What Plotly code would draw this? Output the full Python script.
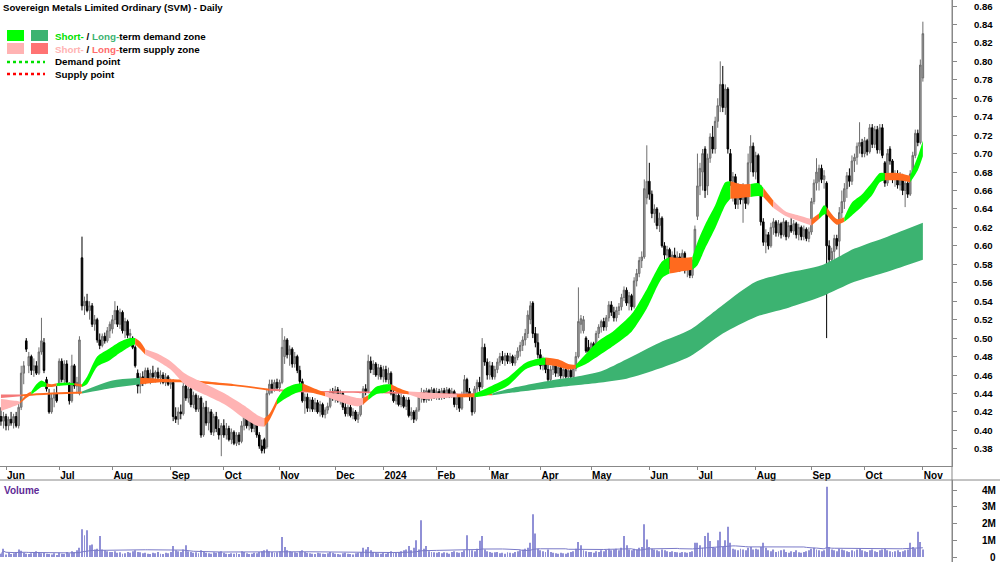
import plotly.graph_objects as go
import pandas as pd

# ---------------- DATA (open, high, low, close) per month ----------------
may23 = [(0.415,0.425,0.405,0.410),(0.410,0.420,0.402,0.415)]
jun23 = [(0.415,0.418,0.400,0.405),(0.405,0.415,0.400,0.412),(0.412,0.420,0.405,0.408),(0.408,0.418,0.402,0.415),
         (0.415,0.420,0.403,0.405),(0.405,0.430,0.402,0.425),(0.425,0.470,0.422,0.462),(0.462,0.475,0.450,0.470),
         (0.497,0.500,0.485,0.488),(0.470,0.485,0.462,0.480),(0.480,0.482,0.460,0.465),(0.465,0.478,0.458,0.470),
         (0.470,0.475,0.460,0.462),(0.462,0.490,0.460,0.485),(0.485,0.522,0.482,0.497),(0.495,0.500,0.462,0.465),
         (0.455,0.458,0.442,0.445),(0.440,0.445,0.418,0.420),(0.420,0.440,0.418,0.435),(0.435,0.445,0.425,0.440),
         (0.440,0.448,0.430,0.432)]
jul23 = [(0.450,0.478,0.448,0.475),(0.475,0.478,0.452,0.455),(0.455,0.476,0.450,0.472),(0.472,0.476,0.450,0.452),
         (0.450,0.452,0.428,0.432),(0.432,0.482,0.430,0.470),(0.470,0.472,0.445,0.448),(0.448,0.458,0.440,0.452),
         (0.440,0.502,0.438,0.498),(0.587,0.610,0.530,0.535),(0.535,0.545,0.525,0.540),(0.540,0.548,0.528,0.530),
         (0.530,0.540,0.520,0.535),(0.535,0.538,0.512,0.515),(0.515,0.525,0.508,0.520),(0.520,0.522,0.495,0.498),
         (0.498,0.505,0.488,0.492),(0.492,0.505,0.490,0.502),(0.502,0.506,0.494,0.497),(0.497,0.512,0.495,0.508),
         (0.508,0.518,0.500,0.515)]
aug23 = [(0.510,0.525,0.505,0.520),(0.520,0.540,0.515,0.530),(0.530,0.535,0.512,0.515),(0.515,0.532,0.510,0.528),
         (0.528,0.530,0.505,0.508),(0.508,0.522,0.500,0.518),(0.518,0.520,0.500,0.503),(0.503,0.510,0.495,0.505),
         (0.500,0.502,0.488,0.490),(0.490,0.492,0.468,0.470),(0.462,0.466,0.440,0.448),(0.448,0.462,0.440,0.458),
         (0.458,0.464,0.448,0.452),(0.452,0.468,0.450,0.465),(0.465,0.468,0.452,0.455),(0.455,0.466,0.450,0.462),
         (0.462,0.470,0.455,0.458),(0.458,0.465,0.452,0.463),(0.463,0.468,0.455,0.457),(0.457,0.465,0.450,0.460),
         (0.460,0.463,0.450,0.452),(0.452,0.462,0.448,0.458),(0.458,0.460,0.448,0.450)]
sep23 = [(0.450,0.456,0.445,0.452),(0.452,0.455,0.410,0.415),(0.415,0.425,0.408,0.412),(0.412,0.425,0.406,0.420),
         (0.420,0.428,0.412,0.418),(0.418,0.452,0.416,0.448),(0.448,0.455,0.432,0.435),(0.435,0.448,0.430,0.445),
         (0.445,0.448,0.425,0.428),(0.428,0.442,0.424,0.438),(0.438,0.440,0.420,0.423),(0.423,0.438,0.420,0.435),
         (0.435,0.437,0.392,0.395),(0.395,0.430,0.393,0.425),(0.425,0.432,0.405,0.408),(0.408,0.425,0.400,0.420),
         (0.420,0.423,0.395,0.398),(0.398,0.418,0.394,0.415),(0.415,0.420,0.398,0.402),(0.402,0.412,0.390,0.395),
         (0.395,0.408,0.372,0.405)]
oct23 = [(0.405,0.412,0.392,0.395),(0.395,0.408,0.390,0.402),(0.402,0.405,0.388,0.390),(0.390,0.402,0.385,0.398),
         (0.398,0.400,0.384,0.386),(0.386,0.398,0.383,0.395),(0.395,0.398,0.384,0.388),(0.388,0.410,0.386,0.405),
         (0.405,0.420,0.400,0.415),(0.415,0.418,0.402,0.405),(0.405,0.415,0.400,0.412),(0.412,0.414,0.398,0.402),
         (0.402,0.412,0.398,0.408),(0.408,0.410,0.392,0.395),(0.395,0.398,0.380,0.383),(0.383,0.390,0.375,0.378),
         (0.390,0.392,0.375,0.380),(0.382,0.445,0.380,0.440),(0.440,0.455,0.438,0.450),(0.450,0.455,0.440,0.445),
         (0.445,0.455,0.442,0.452),(0.452,0.456,0.443,0.446)]
nov23 = [(0.446,0.455,0.442,0.452),(0.452,0.511,0.450,0.490),(0.480,0.502,0.472,0.498),(0.498,0.500,0.478,0.482),
         (0.482,0.492,0.470,0.488),(0.488,0.490,0.468,0.472),(0.472,0.485,0.468,0.480),(0.480,0.482,0.462,0.465),
         (0.465,0.470,0.450,0.453),(0.453,0.456,0.430,0.432),(0.432,0.440,0.418,0.436),(0.436,0.440,0.420,0.424),
         (0.424,0.436,0.420,0.433),(0.433,0.436,0.420,0.423),(0.423,0.435,0.420,0.430),(0.430,0.433,0.418,0.420),
         (0.420,0.432,0.415,0.428),(0.428,0.430,0.414,0.417),(0.417,0.425,0.413,0.422),(0.422,0.430,0.418,0.426),
         (0.426,0.445,0.424,0.442),(0.442,0.446,0.432,0.435)]
dec23 = [(0.435,0.448,0.430,0.444),(0.444,0.447,0.430,0.432),(0.432,0.444,0.428,0.440),(0.440,0.442,0.422,0.425),
         (0.425,0.432,0.415,0.418),(0.418,0.428,0.415,0.425),(0.425,0.428,0.414,0.416),(0.416,0.424,0.412,0.420),
         (0.420,0.422,0.410,0.412),(0.412,0.420,0.408,0.417),(0.417,0.432,0.415,0.430),(0.430,0.448,0.428,0.445),
         (0.445,0.450,0.438,0.442),(0.442,0.482,0.440,0.475),(0.475,0.480,0.462,0.466),(0.466,0.476,0.460,0.472),
         (0.472,0.474,0.458,0.460),(0.460,0.472,0.455,0.468),(0.468,0.471,0.455,0.458)]
jan24 = [(0.458,0.470,0.452,0.466),(0.466,0.470,0.452,0.455),(0.455,0.468,0.450,0.462),(0.462,0.464,0.438,0.440),
         (0.440,0.445,0.430,0.432),(0.432,0.442,0.428,0.438),(0.438,0.441,0.426,0.428),(0.428,0.440,0.425,0.436),
         (0.436,0.438,0.424,0.426),(0.426,0.436,0.422,0.433),(0.433,0.436,0.414,0.416),(0.416,0.425,0.411,0.420),
         (0.420,0.422,0.408,0.412),(0.412,0.425,0.410,0.422),(0.422,0.440,0.420,0.436),(0.436,0.446,0.430,0.441),
         (0.441,0.444,0.430,0.433),(0.433,0.446,0.430,0.443),(0.443,0.445,0.432,0.435),(0.435,0.447,0.432,0.444),
         (0.444,0.446,0.434,0.437)]
feb24 = [(0.437,0.446,0.433,0.442),(0.442,0.445,0.433,0.436),(0.436,0.446,0.433,0.443),(0.443,0.446,0.434,0.438),
         (0.438,0.447,0.435,0.444),(0.444,0.446,0.435,0.438),(0.438,0.446,0.435,0.442),(0.442,0.444,0.425,0.428),
         (0.428,0.440,0.422,0.436),(0.436,0.438,0.420,0.424),(0.424,0.442,0.422,0.438),(0.438,0.460,0.436,0.455),
         (0.455,0.457,0.438,0.442),(0.442,0.446,0.432,0.438),(0.438,0.440,0.416,0.420),(0.420,0.448,0.418,0.445),
         (0.445,0.455,0.440,0.452),(0.452,0.458,0.442,0.447),(0.447,0.500,0.445,0.490),(0.490,0.494,0.470,0.474),
         (0.474,0.478,0.455,0.460)]
mar24 = [(0.460,0.475,0.455,0.470),(0.470,0.474,0.455,0.458),(0.458,0.470,0.455,0.466),(0.466,0.478,0.462,0.474),
         (0.474,0.484,0.470,0.480),(0.480,0.486,0.472,0.476),(0.476,0.484,0.470,0.481),(0.481,0.484,0.472,0.475),
         (0.475,0.484,0.472,0.480),(0.480,0.482,0.470,0.473),(0.473,0.482,0.470,0.479),(0.479,0.490,0.476,0.486),
         (0.486,0.496,0.480,0.492),(0.492,0.502,0.486,0.498),(0.498,0.510,0.492,0.505),(0.505,0.530,0.500,0.525),
         (0.520,0.540,0.515,0.535),(0.538,0.540,0.500,0.505),(0.505,0.512,0.490,0.495),(0.495,0.505,0.478,0.482)]
apr24 = [(0.482,0.488,0.466,0.470),(0.470,0.480,0.465,0.476),(0.476,0.478,0.462,0.466),(0.466,0.474,0.450,0.455),
         (0.455,0.470,0.452,0.466),(0.466,0.474,0.460,0.470),(0.470,0.473,0.458,0.462),(0.462,0.472,0.458,0.468),
         (0.468,0.470,0.456,0.459),(0.459,0.470,0.456,0.466),(0.466,0.468,0.456,0.458),(0.458,0.468,0.455,0.465),
         (0.465,0.467,0.455,0.458),(0.458,0.470,0.456,0.467),(0.467,0.485,0.464,0.480),(0.480,0.555,0.478,0.518),
         (0.515,0.525,0.505,0.521),(0.508,0.524,0.505,0.520),(0.500,0.502,0.484,0.486),(0.490,0.498,0.482,0.485)]
may24 = [(0.485,0.496,0.482,0.494),(0.494,0.496,0.482,0.486),(0.486,0.508,0.484,0.505),(0.505,0.515,0.500,0.512),
         (0.512,0.520,0.506,0.518),(0.518,0.522,0.508,0.512),(0.512,0.525,0.508,0.522),(0.522,0.540,0.518,0.536),
         (0.536,0.540,0.524,0.528),(0.528,0.534,0.518,0.522),(0.522,0.534,0.518,0.530),(0.530,0.538,0.525,0.534),
         (0.534,0.548,0.530,0.544),(0.544,0.556,0.540,0.552),(0.552,0.555,0.535,0.538),(0.538,0.550,0.530,0.546),
         (0.546,0.548,0.530,0.534),(0.534,0.566,0.532,0.562),(0.562,0.575,0.556,0.570),(0.570,0.588,0.566,0.584),
         (0.584,0.594,0.576,0.588),(0.588,0.672,0.586,0.662),(0.652,0.709,0.645,0.670)]
jun24 = [(0.670,0.690,0.650,0.656),(0.656,0.660,0.630,0.635),(0.635,0.645,0.625,0.640),(0.640,0.642,0.618,0.622),
         (0.622,0.636,0.615,0.630),(0.630,0.632,0.598,0.600),(0.600,0.604,0.585,0.590),(0.590,0.600,0.570,0.596),
         (0.596,0.598,0.575,0.580),(0.580,0.594,0.572,0.590),(0.590,0.598,0.576,0.580),(0.580,0.594,0.574,0.588),
         (0.588,0.592,0.572,0.576),(0.576,0.596,0.574,0.592),(0.592,0.594,0.570,0.574),(0.574,0.586,0.566,0.582),
         (0.582,0.584,0.565,0.568),(0.568,0.585,0.565,0.580),(0.580,0.622,0.578,0.618)]
jul24 = [(0.632,0.700,0.628,0.665),(0.665,0.690,0.655,0.684),(0.680,0.705,0.660,0.700),(0.705,0.708,0.652,0.660),
         (0.665,0.700,0.655,0.695),(0.695,0.722,0.690,0.718),(0.718,0.730,0.700,0.705),(0.705,0.740,0.700,0.735),
         (0.735,0.760,0.728,0.752),(0.752,0.800,0.745,0.775),(0.775,0.795,0.745,0.750),(0.750,0.775,0.742,0.770),
         (0.770,0.772,0.700,0.705),(0.700,0.705,0.665,0.670),(0.670,0.680,0.648,0.675),(0.675,0.678,0.640,0.645),
         (0.645,0.668,0.640,0.662),(0.662,0.666,0.645,0.650),(0.650,0.668,0.625,0.660),(0.660,0.664,0.640,0.646),
         (0.646,0.700,0.644,0.690),(0.690,0.720,0.680,0.708),(0.708,0.712,0.675,0.680)]
aug24 = [(0.680,0.702,0.672,0.698),(0.698,0.700,0.660,0.664),(0.664,0.666,0.622,0.626),(0.626,0.630,0.600,0.604),
         (0.604,0.618,0.592,0.612),(0.612,0.615,0.596,0.600),(0.600,0.625,0.598,0.620),(0.620,0.630,0.612,0.626),
         (0.626,0.628,0.610,0.614),(0.614,0.628,0.610,0.624),(0.624,0.626,0.608,0.612),(0.612,0.630,0.610,0.626),
         (0.626,0.628,0.606,0.610),(0.610,0.626,0.608,0.622),(0.622,0.630,0.614,0.616),(0.616,0.628,0.612,0.624),
         (0.624,0.626,0.608,0.612),(0.612,0.624,0.606,0.620),(0.620,0.622,0.606,0.610),(0.610,0.622,0.606,0.618),
         (0.618,0.620,0.605,0.608),(0.608,0.620,0.604,0.615)]
sep24 = [(0.615,0.652,0.612,0.648),(0.648,0.672,0.645,0.668),(0.668,0.695,0.660,0.680),(0.670,0.688,0.660,0.684),
         (0.684,0.688,0.668,0.672),(0.672,0.682,0.662,0.676),(0.668,0.670,0.500,0.600),(0.600,0.606,0.580,0.585),
         (0.585,0.598,0.580,0.594),(0.594,0.612,0.585,0.608),(0.608,0.612,0.596,0.600),(0.605,0.642,0.580,0.636),
         (0.636,0.660,0.630,0.648),(0.648,0.668,0.640,0.662),(0.662,0.680,0.652,0.676),(0.676,0.684,0.664,0.670),
         (0.670,0.698,0.666,0.692),(0.692,0.700,0.680,0.696),(0.696,0.712,0.688,0.708),(0.708,0.734,0.700,0.712),
         (0.712,0.716,0.696,0.700)]
oct24 = [(0.700,0.718,0.696,0.714),(0.714,0.716,0.698,0.702),(0.702,0.732,0.700,0.728),(0.728,0.732,0.706,0.710),
         (0.710,0.730,0.706,0.726),(0.726,0.730,0.700,0.704),(0.704,0.732,0.700,0.728),(0.728,0.732,0.695,0.698),
         (0.690,0.692,0.664,0.668),(0.668,0.705,0.665,0.700),(0.705,0.708,0.688,0.692),(0.692,0.694,0.668,0.672),
         (0.672,0.682,0.664,0.678),(0.678,0.682,0.662,0.666),(0.666,0.680,0.660,0.676),(0.676,0.678,0.655,0.660),
         (0.660,0.672,0.642,0.668),(0.668,0.670,0.652,0.656),(0.656,0.682,0.654,0.678),(0.678,0.702,0.675,0.698),
         (0.698,0.726,0.695,0.722),(0.722,0.726,0.708,0.712),(0.712,0.802,0.710,0.796)]
nov24 = [(0.782,0.843,0.778,0.830)]

# volume (millions) per month
vol_may23 = [0.20,0.50]
vol_jun23 = [0.15,0.25,0.18,0.22,0.30,0.45,0.38,0.25,0.20,0.18,0.22,0.30,0.35,0.28,0.22,0.25,0.20,0.18,0.15,0.22,0.12]
vol_jul23 = [0.25,0.20,0.18,0.30,0.22,0.35,0.28,0.40,0.55,1.65,1.30,1.60,0.70,0.75,0.45,0.50,1.25,0.45,0.40,0.35,0.30]
vol_aug23 = [0.30,0.35,0.25,0.28,0.20,0.22,0.30,0.25,0.35,0.40,0.30,0.28,0.22,0.25,0.20,0.18,0.25,0.22,0.30,0.20,0.18,0.25,0.22]
vol_sep23 = [0.30,0.65,0.40,0.35,0.30,0.45,0.70,0.35,0.30,0.25,0.28,0.22,0.40,0.30,0.25,0.22,0.20,0.28,0.25,0.30,0.35]
vol_oct23 = [0.25,0.20,0.18,0.22,0.20,0.25,0.18,0.35,0.30,0.22,0.18,0.20,0.25,0.22,0.30,0.35,0.40,0.45,0.35,0.30,0.25,0.28]
vol_nov23 = [0.35,1.20,0.60,0.40,0.35,0.30,0.28,0.25,0.35,0.40,0.30,0.25,0.22,0.20,0.18,0.25,0.22,0.20,0.18,0.22,0.30,0.25]
vol_dec23 = [0.20,0.18,0.15,0.22,0.25,0.20,0.18,0.15,0.22,0.25,0.30,0.55,0.45,0.60,0.40,0.30,0.25,0.22,0.20]
vol_jan24 = [0.25,0.20,0.30,0.35,0.28,0.25,0.30,0.35,0.40,0.45,0.65,0.40,0.55,1.00,0.45,2.20,0.50,0.65,0.35,0.30,0.28]
vol_feb24 = [0.25,0.30,0.22,0.28,0.25,0.20,0.30,0.35,0.28,0.25,0.30,0.40,1.30,0.45,0.40,0.35,0.50,0.97,1.25,0.45,0.35]
vol_mar24 = [0.30,0.25,0.28,0.30,0.22,0.25,0.20,0.28,0.25,0.22,0.30,0.35,0.40,0.45,0.50,0.55,0.85,2.55,1.40,0.50]
vol_apr24 = [0.40,0.35,0.30,0.45,0.30,0.25,0.22,0.20,0.25,0.22,0.20,0.25,0.30,0.35,0.50,0.90,0.70,0.40,0.35,0.30]
vol_may24 = [0.30,0.25,0.35,0.30,0.40,0.35,0.45,0.50,0.40,0.45,0.50,0.40,0.55,1.25,0.70,0.45,0.40,0.50,0.45,0.55,0.60,1.95,1.05]
vol_jun24 = [0.60,0.50,0.45,0.40,0.35,0.45,0.40,0.35,0.30,0.35,0.30,0.28,0.25,0.30,0.28,0.25,0.30,0.35,0.85]
vol_jul24 = [0.85,0.70,0.55,1.25,1.45,0.95,0.60,0.55,1.00,1.50,0.60,1.00,1.80,0.85,0.50,0.45,0.40,0.50,0.45,0.40,0.55,0.60,0.45]
vol_aug24 = [0.50,0.45,0.60,0.85,0.55,0.40,0.35,0.45,0.30,0.35,0.40,0.45,0.30,0.25,0.35,0.30,0.40,0.28,0.25,0.30,0.35,0.40]
vol_sep24 = [0.50,0.55,0.45,0.40,0.35,0.40,4.20,0.60,0.45,0.40,0.35,0.50,0.45,0.40,0.35,0.30,0.40,0.35,0.45,0.50,0.40]
vol_oct24 = [0.35,0.30,0.40,0.45,0.35,0.30,0.40,0.45,0.50,0.40,0.35,0.30,0.35,0.40,0.30,0.35,0.40,0.45,0.85,0.60,0.50,1.50,0.90]
vol_nov24 = [0.45]

month_labels = ["", "Jun", "Jul", "Aug", "Sep", "Oct", "Nov", "Dec", "2024", "Feb", "Mar",
                "Apr", "May", "Jun", "Jul", "Aug", "Sep", "Oct", "Nov"]
price_ticks = [0.38, 0.40, 0.42, 0.44, 0.46, 0.48, 0.50, 0.52, 0.54, 0.56, 0.58, 0.60, 0.62,
               0.64, 0.66, 0.68, 0.70, 0.72, 0.74, 0.76, 0.78, 0.80, 0.82, 0.84, 0.86]
vol_ticks = [0, 1, 2, 3, 4]
vol_tick_labels = ["0", "1M", "2M", "3M", "4M"]

# demand / supply zones: knot index, lower, upper, zone of following interval
st_x    = [-2, 1, 4, 5.5, 8, 10, 12, 14, 16, 18, 20, 24, 27, 30, 32, 36, 41, 45, 49, 51, 53, 55, 60, 65, 71, 79, 87, 94, 99,
           102, 104, 107, 110, 114, 117, 122, 126, 133, 139, 141, 143, 146, 150, 152, 155, 159, 165, 172, 178, 185, 190,
           198, 205, 209, 213, 218, 222, 225, 229, 234, 240, 247, 253, 259, 262, 266, 271, 273, 276, 280, 284, 286, 290,
           294, 297, 299, 303, 308, 313, 318, 321, 323, 324, 328, 331, 334, 338, 342, 345, 347, 352, 357, 360, 362]
st_lo   = [0.421, 0.424, 0.427, 0.429, 0.435, 0.439, 0.443, 0.447, 0.447, 0.447, 0.448, 0.449, 0.449, 0.447, 0.450, 0.469,
           0.476, 0.484, 0.491, 0.493, 0.488, 0.482, 0.475, 0.466, 0.449, 0.438, 0.427, 0.413, 0.405, 0.404, 0.411, 0.428,
           0.434, 0.440, 0.443, 0.440, 0.437, 0.430, 0.426, 0.428, 0.433, 0.439, 0.441, 0.444, 0.441, 0.439, 0.434, 0.435,
           0.436, 0.436, 0.438, 0.448, 0.466, 0.470, 0.471, 0.469, 0.466, 0.467, 0.472, 0.481, 0.492, 0.507, 0.532, 0.565,
           0.570, 0.572, 0.574, 0.579, 0.597, 0.619, 0.644, 0.651, 0.652, 0.653, 0.654, 0.653, 0.641, 0.632, 0.627, 0.622,
           0.629, 0.634, 0.634, 0.623, 0.626, 0.633, 0.643, 0.655, 0.669, 0.671, 0.671, 0.669, 0.682, 0.697]
st_hi   = [0.434, 0.433, 0.432, 0.431, 0.439, 0.442, 0.450, 0.454, 0.451, 0.450, 0.451, 0.452, 0.451, 0.450, 0.458, 0.480,
           0.489, 0.496, 0.500, 0.500, 0.496, 0.488, 0.483, 0.475, 0.461, 0.450, 0.439, 0.427, 0.417, 0.413, 0.418, 0.434,
           0.445, 0.450, 0.451, 0.445, 0.441, 0.439, 0.435, 0.435, 0.438, 0.447, 0.450, 0.450, 0.446, 0.442, 0.441, 0.440,
           0.439, 0.440, 0.446, 0.457, 0.473, 0.477, 0.479, 0.477, 0.472, 0.471, 0.483, 0.497, 0.508, 0.526, 0.553, 0.583,
           0.588, 0.587, 0.588, 0.604, 0.623, 0.644, 0.669, 0.670, 0.667, 0.667, 0.668, 0.663, 0.649, 0.637, 0.633, 0.629,
           0.635, 0.644, 0.642, 0.629, 0.631, 0.647, 0.656, 0.669, 0.679, 0.679, 0.679, 0.676, 0.697, 0.714]
st_zone = ["ss", "ss", "ss", "or", "or", "sd", "sd", "sd", "or", "or", "sd", "sd", "or", "sd", "sd", "sd", "sd", "sd",
           "sd", "or", "or", "ss", "ss", "ss", "ss", "ss", "ss", "ss", "ss", "or", "or", "sd", "sd", "sd", "or", "or",
           "ss", "ss", "ss", "or", "sd", "sd", "sd", "or", "or", "ss", "ss", "ss", "or", "sd", "sd", "sd", "sd", "sd",
           "or", "or", "or", "sd", "sd", "sd", "sd", "sd", "sd", "sd", "or", "or", "sd", "sd", "sd", "sd", "sd", "or",
           "or", "sd", "sd", "or", "ss", "ss", "ss", "or", "sd", "sd", "or", "or", "sd", "sd", "sd", "sd", "sd", "or",
           "or", "sd", "sd", "sd"]

lt_x    = [-2, 6, 18, 30, 42, 53, 60, 70, 90, 104, 120, 150, 175, 186, 192, 200, 215, 225, 235, 245, 258, 270, 283, 296,
           309, 322, 335, 348, 362]
lt_lo   = [0.435, 0.437, 0.439, 0.440, 0.446, 0.450, 0.452, 0.452, 0.448, 0.443, 0.441, 0.440, 0.438, 0.438, 0.438, 0.441,
           0.446, 0.449, 0.452, 0.456, 0.467, 0.480, 0.505, 0.523, 0.533, 0.545, 0.561, 0.572, 0.585]
lt_hi   = [0.439, 0.439, 0.441, 0.442, 0.454, 0.457, 0.456, 0.455, 0.450, 0.445, 0.443, 0.442, 0.440, 0.440, 0.440, 0.446,
           0.454, 0.458, 0.464, 0.477, 0.495, 0.509, 0.536, 0.561, 0.571, 0.579, 0.597, 0.610, 0.625]
lt_zone = ["ls", "or", "or", "ld", "ld", "or", "or", "or", "or", "ls", "ls", "ls", "ls", "or", "ld", "ld", "ld", "ld",
           "ld", "ld", "ld", "ld", "ld", "ld", "ld", "ld", "ld", "ld", "ld"]

ZONE_COLORS = {"sd": "#00FF00", "ld": "#3CB371", "ss": "#FFB3B3", "ls": "#F47878", "or": "#FF6A1E"}

# ---------------- BUILD ----------------
months = [may23, jun23, jul23, aug23, sep23, oct23, nov23, dec23, jan24, feb24, mar24, apr24,
          may24, jun24, jul24, aug24, sep24, oct24, nov24]
vols = [vol_may23, vol_jun23, vol_jul23, vol_aug23, vol_sep23, vol_oct23, vol_nov23, vol_dec23, vol_jan24,
        vol_feb24, vol_mar24, vol_apr24, vol_may24, vol_jun24, vol_jul24, vol_aug24, vol_sep24, vol_oct24, vol_nov24]

rows, volume, tickvals, ticktext = [], [], [], []
start = -len(may23)
pos = start
for m, v, lab in zip(months, vols, month_labels):
    assert len(m) == len(v)
    if lab:
        tickvals.append(pos)
        ticktext.append(lab)
    rows += m
    volume += v
    pos += len(m)
idx = list(range(start, start + len(rows)))
o = [r[0] for r in rows]; h = [r[1] for r in rows]; l = [r[2] for r in rows]; c = [r[3] for r in rows]
vol_avg = pd.Series(volume).rolling(40, min_periods=1).mean().tolist()

W, H, PW = 1000, 562, 952
def pxx(x): return x / PW
def pxy(y): return 1 - y / H

FONT = "Liberation Sans, Arial, sans-serif"
fig = go.Figure()

def add_band(kx, klo, khi, kz):
    n = len(kx)
    s = 0
    while s < n - 1:
        z = kz[s]
        e = s
        while e < n - 1 and kz[e] == z:
            e += 1
        xs = kx[s:e + 1]
        fig.add_trace(go.Scatter(x=xs, y=klo[s:e + 1], mode="lines", hoverinfo="skip", showlegend=False,
                                 line=dict(width=0, shape="spline", smoothing=0.7), xaxis="x", yaxis="y"))
        fig.add_trace(go.Scatter(x=xs, y=khi[s:e + 1], mode="lines", hoverinfo="skip", showlegend=False,
                                 line=dict(width=0, shape="spline", smoothing=0.7), fill="tonexty",
                                 fillcolor=ZONE_COLORS[z], xaxis="x", yaxis="y"))
        s = e

add_band(lt_x, lt_lo, lt_hi, lt_zone)
add_band(st_x, st_lo, st_hi, st_zone)

fig.add_trace(go.Candlestick(
    x=idx, open=o, high=h, low=l, close=c, whiskerwidth=0, showlegend=False,
    increasing=dict(line=dict(color="#6E6E6E", width=1), fillcolor="#9E9E9E"),
    decreasing=dict(line=dict(color="#000000", width=1), fillcolor="#000000"),
    xaxis="x", yaxis="y"))

fig.add_trace(go.Bar(x=idx, y=volume, width=0.38, marker=dict(color="#9090D6", line=dict(width=0)),
                     showlegend=False, xaxis="x2", yaxis="y2"))
fig.add_trace(go.Scatter(x=idx, y=vol_avg, mode="lines", line=dict(color="#7A7AC8", width=1),
                         showlegend=False, xaxis="x2", yaxis="y2"))

x_range = [-2.37, 373.5]

fig.update_layout(
    width=W, height=H, margin=dict(l=0, r=W - PW, t=0, b=0, autoexpand=False),
    paper_bgcolor="white", plot_bgcolor="white", boxgap=0.12,
    font=dict(family=FONT, size=10, color="black"),
    xaxis=dict(domain=[0, 1], range=x_range, showgrid=False, zeroline=False, rangeslider=dict(visible=False),
               tickvals=tickvals, ticktext=ticktext, ticks="outside", ticklen=3, tickcolor="#888",
               ticklabelposition="outside right", showline=True, linecolor="#888", linewidth=1, automargin=False,
               tickfont=dict(family=FONT, size=10, color="black", weight="bold"), anchor="y"),
    yaxis=dict(domain=[pxy(466), 1], range=[0.36136, 0.8665], side="right", showgrid=False, zeroline=False,
               tickvals=price_ticks, showticklabels=False, ticks="outside", ticklen=4,
               tickcolor="#888", showline=True, linecolor="#888", automargin=False, anchor="x"),
    xaxis2=dict(domain=[0, 1], range=x_range, showgrid=False, zeroline=False, showticklabels=False,
                showline=False, anchor="y2", matches="x", automargin=False),
    yaxis2=dict(domain=[0, pxy(480)], range=[-0.2985, 4.597], side="right", showgrid=False, zeroline=False,
                tickvals=vol_ticks, showticklabels=False, ticks="outside", ticklen=4, tickcolor="#888",
                showline=True, linecolor="#888", anchor="x2", automargin=False),
)

shapes = [
    dict(type="line", xref="paper", yref="paper", x0=0, x1=W / PW, y0=pxy(480), y1=pxy(480),
         line=dict(color="#888", width=1)),
    dict(type="line", xref="paper", yref="paper", x0=1, x1=1, y0=0, y1=1, line=dict(color="#888", width=1)),
    # legend swatches
    dict(type="rect", xref="paper", yref="paper", x0=pxx(7), x1=pxx(24), y0=pxy(41), y1=pxy(30),
         fillcolor=ZONE_COLORS["sd"], line=dict(width=0)),
    dict(type="rect", xref="paper", yref="paper", x0=pxx(31), x1=pxx(48), y0=pxy(41), y1=pxy(30),
         fillcolor=ZONE_COLORS["ld"], line=dict(width=0)),
    dict(type="rect", xref="paper", yref="paper", x0=pxx(7), x1=pxx(24), y0=pxy(54), y1=pxy(43),
         fillcolor=ZONE_COLORS["ss"], line=dict(width=0)),
    dict(type="rect", xref="paper", yref="paper", x0=pxx(31), x1=pxx(48), y0=pxy(54), y1=pxy(43),
         fillcolor="#FF7373", line=dict(width=0)),
    dict(type="line", xref="paper", yref="paper", x0=pxx(7), x1=pxx(45), y0=pxy(62), y1=pxy(62),
         line=dict(color="#00E000", width=2.5, dash="dot")),
    dict(type="line", xref="paper", yref="paper", x0=pxx(7), x1=pxx(45), y0=pxy(74), y1=pxy(74),
         line=dict(color="#FF0000", width=2.5, dash="dot")),
]
fig.update_layout(shapes=shapes)

def ann(text, x, y, size=10, color="black", xanchor="left", yref="paper"):
    return dict(text=text, x=x, y=y, xref="paper", yref=yref, xanchor=xanchor, yanchor="middle",
                showarrow=False, font=dict(family=FONT, size=size, color=color, weight="bold"))

annotations = [
    ann("Sovereign Metals Limited Ordinary (SVM) - Daily", pxx(1), pxy(8), size=9.6),
    ann('<span style="color:#00E000">Short-</span> / <span style="color:#3CB371">Long-</span>term demand zone',
        pxx(53), pxy(36), size=9.8),
    ann('<span style="color:#FFB3B3">Short-</span> / <span style="color:#FF6B6B">Long-</span>term supply zone',
        pxx(53), pxy(49), size=9.8),
    ann("Demand point", pxx(53), pxy(62), size=9.8),
    ann("Supply point", pxx(53), pxy(74), size=9.8),
    ann("Volume", pxx(2), pxy(490), color="#5E2A96"),
]
for p in price_ticks:
    annotations.append(ann(f"{p:.2f}", 995 / PW, p, size=9.6, xanchor="right", yref="y"))
for v, t in zip(vol_ticks, vol_tick_labels):
    annotations.append(ann(t, 998 / PW, v, xanchor="right", yref="y2"))
fig.update_layout(annotations=annotations)

fig.write_html("out.html")
